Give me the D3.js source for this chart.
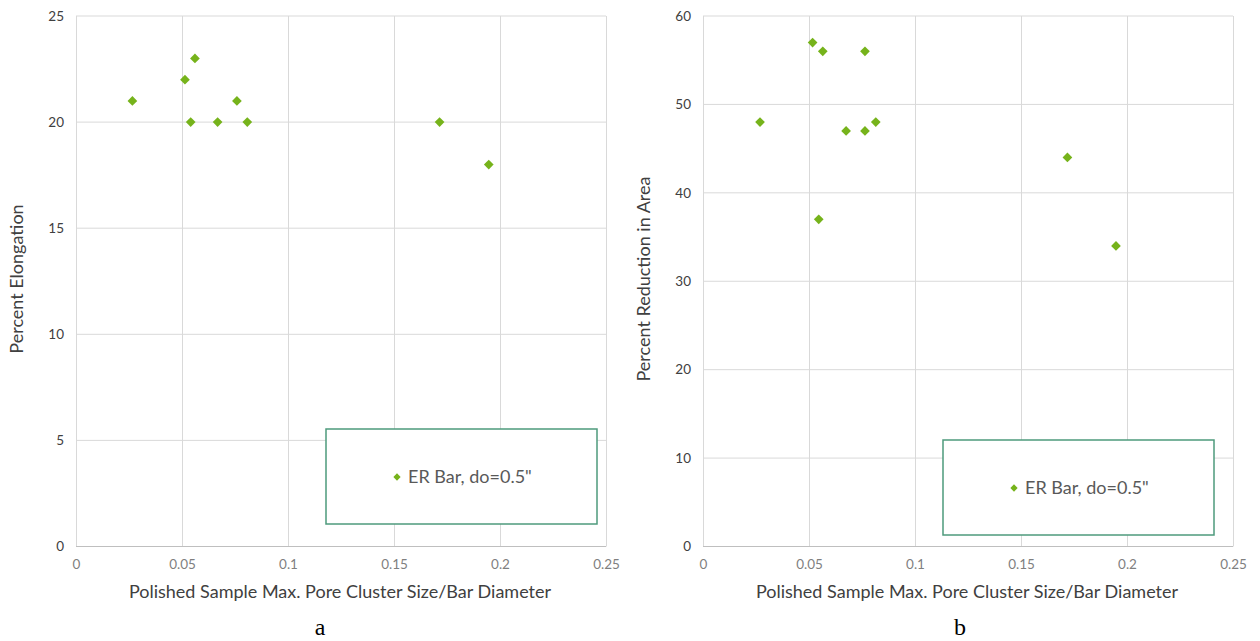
<!DOCTYPE html>
<html lang="en">
  <head>
    <meta charset="utf-8">
    <title>Pore cluster size vs ductility</title>
    <script src="https://d3js.org/d3.v7.min.js"></script>
    <style>
      body { margin: 0; background: #fff; }
      .tick text { font-family: Lato, "Open Sans", sans-serif; font-size: 13.5px; }
      .xax .tick text { fill: #7f7f7f; }
      .yax .tick text { fill: #404040; }
      .title { font-family: Lato, "Open Sans", sans-serif; font-size: 18px; fill: #404040; }
      .caption { font-family: "Liberation Serif", serif; font-size: 24px; fill: #000; }
      .legend text { font-family: Lato, "Open Sans", sans-serif; font-size: 18px; fill: #595959; }
    </style>
  </head>
  <body>
    <script>
      // data
      const seriesName = 'ER Bar, do=0.5"';
      const xTitle = "Polished Sample Max. Pore Cluster Size/Bar Diameter";
      const xTicks = [0, 0.05, 0.1, 0.15, 0.2, 0.25];

      // panel a: percent elongation
      const ratioA = [0.0266, 0.0514, 0.0561, 0.0541, 0.0668, 0.0759, 0.0808, 0.1715, 0.1947];
      const elongation = [21, 22, 23, 20, 20, 21, 20, 20, 18];
      const yTicksA = [0, 5, 10, 15, 20, 25];

      // panel b: percent reduction in area
      const ratioB = [0.0269, 0.0517, 0.0565, 0.0546, 0.0675, 0.0764, 0.0764, 0.0815, 0.1719, 0.1948];
      const reduction = [48, 57, 56, 37, 47, 56, 47, 48, 44, 34];
      const yTicksB = [0, 10, 20, 30, 40, 50, 60];

      const w = 1260, h = 641;
      const green = "#76b31b";

      const svg = d3.select("body").append("svg")
        .attr("width", w)
        .attr("height", h);

      function panel(opt) {
        const x = d3.scaleLinear().domain([0, 0.25]).range([opt.left, opt.left + 530]);
        const y = d3.scaleLinear().domain([0, opt.yMax]).range([546.5, 16]);
        const g = svg.append("g");

        // vertical grid
        g.append("g")
          .attr("transform", "translate(0,16)")
          .call(d3.axisBottom(x).tickValues(xTicks).tickSize(530.5).tickFormat(""))
          .call(a => a.select(".domain").remove())
          .call(a => a.selectAll("line").attr("stroke", "#d9d9d9"));

        // horizontal grid + y labels
        g.append("g")
          .attr("class", "yax")
          .attr("transform", "translate(" + opt.left + ",0)")
          .call(d3.axisLeft(y).tickValues(opt.yTicks).tickSize(0).tickPadding(12))
          .call(a => a.select(".domain").remove());
        g.append("g")
          .selectAll("line")
          .data(opt.yTicks)
          .join("line")
          .attr("x1", x(0)).attr("x2", x(0.25))
          .attr("y1", d => y(d)).attr("y2", d => y(d))
          .attr("stroke", d => d === 0 ? "#bfbfbf" : "#d9d9d9");

        // x labels
        g.append("g")
          .attr("class", "xax")
          .attr("transform", "translate(0,546.5)")
          .call(d3.axisBottom(x).tickValues(xTicks).tickSize(0).tickPadding(13)
            .tickFormat(d => d3.format("")(d)))
          .call(a => a.select(".domain").remove());

        // titles
        g.append("text").attr("class", "title")
          .attr("x", opt.left + 264).attr("y", 598)
          .attr("text-anchor", "middle")
          .text(xTitle);
        g.append("text").attr("class", "title")
          .attr("transform", "translate(" + (opt.left - 53) + "," + 279 + ") rotate(-90)")
          .attr("text-anchor", "middle")
          .text(opt.yTitle);
        g.append("text").attr("class", "caption")
          .attr("x", opt.capX).attr("y", 635)
          .attr("text-anchor", "middle")
          .text(opt.caption);

        // points
        const sym = d3.symbol().type(d3.symbolDiamond2).size(60);
        g.append("g")
          .selectAll("path")
          .data(opt.xs.map((v, i) => [v, opt.ys[i]]))
          .join("path")
          .attr("d", sym)
          .attr("transform", d => "translate(" + x(d[0]) + "," + y(d[1]) + ")")
          .attr("fill", green);

        // legend
        const lg = g.append("g").attr("class", "legend");
        lg.append("rect")
          .attr("x", opt.legend[0]).attr("y", opt.legend[1])
          .attr("width", 271).attr("height", 95)
          .attr("fill", "#fff")
          .attr("stroke", "#4e9a7c").attr("stroke-width", 1.5);
        lg.append("path")
          .attr("d", d3.symbol().type(d3.symbolDiamond2).size(34))
          .attr("transform", "translate(" + (opt.legend[0] + 71) + "," + (opt.legend[1] + 48) + ")")
          .attr("fill", green);
        lg.append("text")
          .attr("x", opt.legend[0] + 82).attr("y", opt.legend[1] + 54)
          .text(seriesName);
      }

      panel({ left: 76, yMax: 25, yTicks: yTicksA, xs: ratioA, ys: elongation,
              yTitle: "Percent Elongation", caption: "a", capX: 320, legend: [326, 429] });
      panel({ left: 703, yMax: 60, yTicks: yTicksB, xs: ratioB, ys: reduction,
              yTitle: "Percent Reduction in Area", caption: "b", capX: 960, legend: [943, 440] });
    </script>
  </body>
</html>
